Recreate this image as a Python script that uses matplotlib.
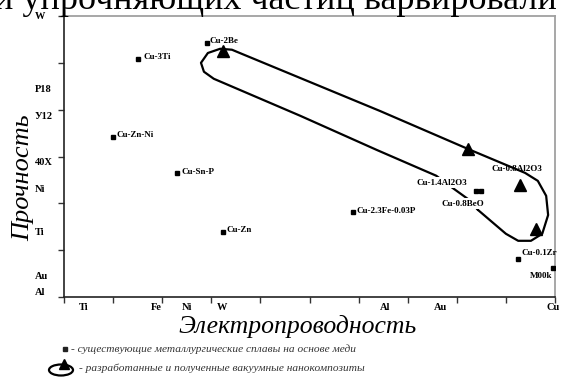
import matplotlib
matplotlib.use("Agg")
import matplotlib.pyplot as plt
from matplotlib.patches import Ellipse

plt.rcParams['font.family'] = ['Liberation Serif', 'DejaVu Serif']

# ---------------- data ----------------
x_tick_labels = ["Ti", "Fe", "Ni", "W", "Al", "Au", "Cu"]
x_tick_label_pos = [0.41, 1.89, 2.50, 3.22, 6.54, 7.66, 9.96]
y_tick_labels = ["W", "P18", "У12", "40X", "Ni", "Ti", "Au", "Al"]
y_tick_label_pos = [5.98, 4.42, 3.85, 2.88, 2.29, 1.37, 0.43, 0.09]

alloy_names = ["Cu-3Ti", "Cu-2Be", "Cu-Zn-Ni", "Cu-Sn-P", "Cu-Zn",
               "Cu-2.3Fe-0.03P", "Cu-0.1Zr", "M00k"]
alloy_x = [1.51, 2.91, 1.00, 2.30, 3.24, 5.89, 9.25, 9.96]
alloy_y = [5.09, 5.43, 3.42, 2.65, 1.39, 1.82, 0.81, 0.62]
alloy_label_offset = [(5, 2), (3, 2), (3, 2), (5, 1), (3, 2), (3, 1), (3, 6), (-1, -8)]
alloy_label_ha = ["left", "left", "left", "left", "left", "left", "left", "right"]

extra_sq_x = [8.39, 8.49]
extra_sq_y = [2.26, 2.26]

free_labels = ["Cu-1.4Al2O3", "Cu-0.8BeO", "Cu-0.8Al2O3"]
free_label_x = [7.70, 8.13, 9.23]
free_label_y = [2.44, 1.99, 2.74]

tri_x = [3.24, 8.23, 9.29, 9.61]
tri_y = [5.26, 3.16, 2.39, 1.45]

loop_x = [8.43, 8.72, 9.00, 9.25, 9.51, 9.74, 9.86, 9.82, 9.65, 9.39, 8.23, 6.44,
          3.58, 3.42, 3.18, 2.93, 2.79, 2.85, 3.05, 4.81, 6.37, 7.58, 7.86, 8.23, 8.43]
loop_y = [1.86, 1.60, 1.35, 1.20, 1.20, 1.35, 1.75, 2.16, 2.48, 2.65, 3.16, 3.97,
          5.21, 5.28, 5.30, 5.21, 5.00, 4.81, 4.66, 3.87, 3.14, 2.59, 2.37, 2.09, 1.86]

x_title = "Электропроводность"
y_title = "Прочность"
legend_1 = "- существующие металлургические сплавы на основе меди"
legend_2 = "- разработанные и полученные вакуумные нанокомпозиты"
top_text = "и упрочняющих частиц варьировали"

# ---------------- figure ----------------
W, H = 563, 380
fig = plt.figure(figsize=(W / 100, H / 100), dpi=100)
ax = fig.add_axes([64 / W, (H - 297) / H, 491 / W, 281 / H])
ax.set_xlim(0, 10)
ax.set_ylim(0, 6)

for s in ["top", "right"]:
    ax.spines[s].set_color("#a0a0a0")
    ax.spines[s].set_linewidth(1.3)
for s in ["left", "bottom"]:
    ax.spines[s].set_color("#222222")
    ax.spines[s].set_linewidth(1.2)
ax.set_xticks(range(0, 11))
ax.set_yticks(range(0, 7))
ax.tick_params(direction="out", length=4, width=1, color="#333333",
               labelbottom=False, labelleft=False)

# loop
ax.plot(loop_x, loop_y, color="black", lw=1.6, solid_joinstyle="round",
        solid_capstyle="round", zorder=2)
ax.plot(tri_x, tri_y, linestyle="none", marker="^", markersize=8,
        color="black", zorder=4)

# existing alloys
ax.plot(alloy_x, alloy_y, linestyle="none", marker="s", markersize=3,
        color="black", zorder=4)
ax.plot(extra_sq_x, extra_sq_y, linestyle="none", marker="s", markersize=3,
        color="black", zorder=4)
for name, x, y, off, ha in zip(alloy_names, alloy_x, alloy_y, alloy_label_offset, alloy_label_ha):
    ax.annotate(name, (x, y), xytext=off, textcoords="offset pixels",
                ha=ha, va="center", fontsize=6.5, fontweight="bold", zorder=5)
for name, x, y in zip(free_labels, free_label_x, free_label_y):
    bb = None
    if name != "Cu-0.8Al2O3":
        bb = dict(boxstyle="square,pad=0.15", fc="white", ec="none")
    ax.text(x, y, name, ha="center", va="center", fontsize=6.5,
            fontweight="bold", bbox=bb, zorder=3)

# axis text labels
ytr = ax.get_yaxis_transform()
for lab, pos in zip(y_tick_labels, y_tick_label_pos):
    ax.text(-29 / 491, pos, lab, transform=ytr, ha="left", va="center",
            fontsize=7.5, fontweight="bold", clip_on=False)
xtr = ax.get_xaxis_transform()
for lab, pos in zip(x_tick_labels, x_tick_label_pos):
    ax.text(pos, -10 / 281, lab, transform=xtr, ha="center", va="center",
            fontsize=7.5, fontweight="bold", clip_on=False)

fig.text(298 / W, 1 - 326 / H, x_title, ha="center", va="center",
         fontsize=18.5, style="italic")
fig.text(23 / W, 1 - 178 / H, y_title, ha="center", va="center",
         fontsize=19, style="italic", rotation=90)

# top cut-off text (cropped in the source image as well)
fig.text(-6 / W, 1 - 9 / H, top_text, ha="left", va="baseline", fontsize=26)

# legend
lax = fig.add_axes([0, 0, 1, 1], facecolor="none")
lax.set_xlim(0, W)
lax.set_ylim(H, 0)
lax.axis("off")
lax.plot([65], [349], marker="s", markersize=3, color="#222222", linestyle="none")
lax.text(71, 349, legend_1, ha="left", va="center", fontsize=8.2,
         style="italic", color="#333333")
lax.add_patch(Ellipse((61, 370), 24, 11, fill=False, lw=1.6, ec="black"))
lax.plot([64], [364], marker="^", markersize=7, color="black", linestyle="none")
lax.text(79, 368, legend_2, ha="left", va="center", fontsize=8.2,
         style="italic", color="#333333")

fig.savefig("out.png", dpi=100)
